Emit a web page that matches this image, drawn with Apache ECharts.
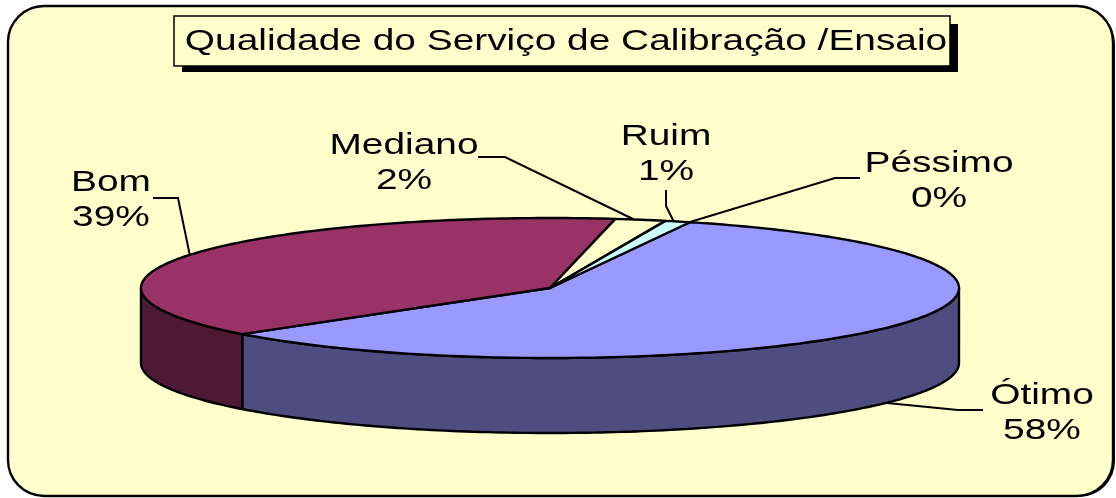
<!DOCTYPE html>
<html>
<head>
<meta charset="utf-8">
<style>html,body{margin:0;padding:0;background:#fff}#c{width:1116px;height:498px}</style>
<script src="https://cdn.jsdelivr.net/npm/echarts@6/dist/echarts.min.js"></script>
</head>
<body>
<div id="c"></div>
<script>
// ---- data ----
const titleText = 'Qualidade do Serviço de Calibração /Ensaio';
const categories = ['Ótimo', 'Bom', 'Mediano', 'Ruim', 'Péssimo'];
const percentages = [58, 39, 2, 1, 0];

// ---- styles ----
const topColors = ['#9999FF', '#993366', '#FFFFCC', '#CCFFFF', '#660066'];
const sideColors = ['#4D4D80', '#4D1933', '#80806A', '#668080', '#330033'];

// ---- layout ----
const FONT = '30px "Liberation Sans", Arial, sans-serif';
const STRETCH = 1.295;
const cx = 550, cy = 288, rx = 409, ry = 70, depth = 75, startAngle = 70;
const labelCenters = [[1042, 396, 431], [111, 183, 218], [404, 146, 181], [666, 137, 172], [939, 164, 199]];
const leaders = [
  [[887, 403], [958, 410], [983, 410]],
  [[190, 256], [178, 198], [153, 198]],
  [[633, 219], [505, 157], [478, 157]],
  [[674, 222], [666, 206], [666, 190]],
  [[690, 222], [835, 178], [860, 178]]
];

const total = percentages.reduce((a, b) => a + b, 0);
function angles(i) {
  let before = 0;
  for (let k = 0; k < i; k++) before += percentages[k];
  const a0 = startAngle - before / total * 360;
  return [a0, a0 - percentages[i] / total * 360];
}
function pt(t, dy) {
  const r = t * Math.PI / 180;
  return [cx + rx * Math.cos(r), cy - ry * Math.sin(r) + (dy || 0)];
}
function arc(from, to, dy) {
  const pts = [], n = Math.max(1, Math.ceil(Math.abs(from - to)));
  for (let j = 0; j <= n; j++) pts.push(pt(from + (to - from) * j / n, dy));
  return pts;
}
const edge = { stroke: '#000', lineWidth: 2.4, lineJoin: 'round' };

function renderSide(params, api) {
  const i = api.value(1), [a0, a1] = angles(i);
  const hi = Math.min(a0, 0), lo = Math.max(a1, -180);
  if (hi <= lo) return { type: 'group', children: [] };
  const points = arc(hi, lo, 0).concat(arc(lo, hi, depth));
  return { type: 'polygon', shape: { points }, style: Object.assign({ fill: sideColors[i] }, edge) };
}
function renderTop(params, api) {
  const i = api.value(1), [a0, a1] = angles(i);
  if (api.value(0) === 0) return { type: 'group', children: [] };
  const points = [[cx, cy]].concat(arc(a0, a1, 0));
  return { type: 'polygon', shape: { points }, style: Object.assign({ fill: topColors[i] }, edge) };
}
function stretchedText(text, x, y) {
  return {
    type: 'text', x, y, scaleX: STRETCH, scaleY: 1,
    style: { text, font: FONT, fill: '#000', align: 'center', verticalAlign: 'middle' }
  };
}
function renderLabel(params, api) {
  const i = api.value(1), c = labelCenters[i];
  return {
    type: 'group',
    children: [
      { type: 'polyline', shape: { points: leaders[i] }, style: { stroke: '#000', lineWidth: 2, fill: null } },
      stretchedText(categories[i], c[0], c[1]),
      stretchedText(api.value(0) + '%', c[0], c[2])
    ]
  };
}
const rows = percentages.map((v, i) => ({ name: categories[i], value: [v, i] }));
const customSeries = (renderItem, z) => ({
  type: 'custom', coordinateSystem: 'none', renderItem, data: rows, z, silent: true, animation: false,
  dimensions: ['percent', 'index'], encode: { value: 0 }
});

const chart = echarts.init(document.getElementById('c'));
chart.setOption({
  animation: false,
  backgroundColor: '#FFFFFF',
  graphic: [
    { type: 'rect', z: 0, shape: { x: 11, y: 8, width: 1104, height: 489, r: 36 }, style: { fill: '#000' } },
    { type: 'rect', z: 0, shape: { x: 8, y: 6, width: 1105, height: 490, r: 36 }, style: { fill: '#FFFFCC', stroke: '#000', lineWidth: 2.4 } },
    { type: 'rect', z: 10, shape: { x: 182, y: 24, width: 776, height: 48 }, style: { fill: '#000' } },
    { type: 'rect', z: 10, shape: { x: 174, y: 16, width: 776, height: 50 }, style: { fill: '#FFFFCC', stroke: '#000', lineWidth: 1.5 } },
    { type: 'text', z: 11, x: 566, y: 42, scaleX: STRETCH, scaleY: 1,
      style: { text: titleText, font: FONT, fill: '#000', align: 'center', verticalAlign: 'middle' } }
  ],
  series: [customSeries(renderSide, 2), customSeries(renderTop, 3), customSeries(renderLabel, 4)]
});
</script>
</body>
</html>
